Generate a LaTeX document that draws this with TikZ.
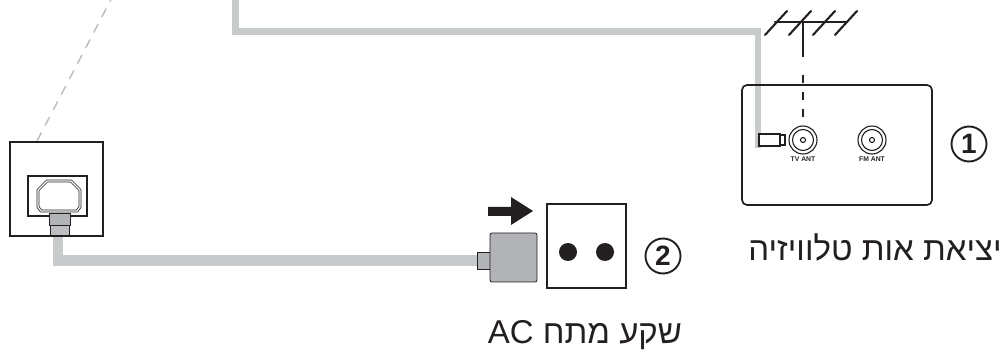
\documentclass[tikz,border=0pt]{standalone}
\usepackage{xcolor}
\usepackage{fontspec}
\setmainfont{Liberation Sans}
\newfontfamily\hebfont[Script=Hebrew]{Liberation Sans}
\TeXXeTstate=1
\usetikzlibrary{calc,arrows.meta}
\definecolor{ink}{HTML}{231F20}
\definecolor{wire}{HTML}{C8CBCC}
\definecolor{plug}{HTML}{B1B3B6}
\definecolor{faint}{HTML}{BDBFC1}
\tikzset{
  cable/.style={draw=wire, line width=10.5pt, line join=miter},
  thincable/.style={draw=wire, line width=6.5pt, line join=miter},
  plate/.style={draw=ink, line width=1.7pt},
  heavy/.style={draw=ink, line width=2.6pt},
  part/.style={draw=ink, fill=plug, line width=0.8pt},
  rod/.style={draw=ink, line width=2.1pt, line cap=round},
  hole/.style={circle, fill=ink, inner sep=0pt, minimum size=18pt},
  badge/.style={circle, draw=ink, line width=1.9pt, inner sep=0pt, minimum size=35pt, text=ink, font=\fontsize{28}{28}\selectfont\bfseries},
  caption/.style={text=ink, font=\fontsize{33}{33}\selectfont\hebfont, inner sep=0pt},
  tiny/.style={text=ink, font=\fontsize{6.8}{6.8}\selectfont\bfseries, inner sep=0pt},
}
\begin{document}
\begin{tikzpicture}[x=1pt,y=-1pt]
  \useasboundingbox (0,0) rectangle (1008,352);
  \coordinate (TV) at (803,140);
  \coordinate (FM) at (872,140);
  % cable from the top to the aerial socket
  \coordinate (topin) at (235.7,0);
  \coordinate (topend) at (758,148);
  \draw[thincable] (topin) |- (758,31.5) -- (topend);
  % aerial
  \draw[rod] (775,22) -- (847,22);
  \foreach \x in {765,789,813,835}
    \draw[rod] (\x,35) -- (\x+22,11);
  \draw[rod, line cap=butt] (803,22) -- (803,57);
  \draw[rod, line cap=butt, line width=2.5pt, dash pattern=on 8pt off 9pt] (803,75) -- (803,117);
  % aerial wall plate
  \draw[plate, rounded corners=5pt] (742,85) rectangle (932,205);
  \foreach \c in {TV,FM} {
    \draw[ink, line width=1.1pt] (\c) circle (14pt);
    \draw[ink, line width=1.1pt] (\c) circle (10.5pt);
    \draw[ink, line width=1.1pt] (\c) circle (2.5pt);
  }
  \node[tiny] (tvlab) at (803,159) {TV ANT};
  \node[tiny] (fmlab) at (872,159) {FM ANT};
  \draw[fill=white, draw=ink, line width=2pt] (759,134) rectangle (780,146);
  \draw[fill=white, draw=ink, line width=2pt] (780,135) rectangle (785,145);
  \node[badge] (one) at (969,144) {1};
  \node[caption] (tvcap) at (875,247) {\beginR יציאת אות טלוויזיה\endR};
  % dashed guide and back panel
  \draw[draw=faint, line width=1.5pt, dash pattern=on 9.5pt off 8pt] (37,141) -- (110.7,0);
  \draw[cable] (58,236) |- (478,260.5);
  \draw[plate] (10,142) rectangle (103,236);
  \draw[plate] (28,176) rectangle (87,216);
  \draw[ink, line width=0.8pt, line join=round, double=white, double distance=1.2pt]
    (47,181) -- (71,181) -- (80,190) -- (80,207) -- (77,211) -- (41,211) -- (38,207) -- (38,190) -- cycle;
  \draw[part, fill=plug!85!white] (50,225) rectangle (69,236);
  \draw[part] (49,213) rectangle (70,225);
  \draw[draw=ink, line width=1.6pt] (50,236) -- (69,236);
  % mains plug and socket
  \draw[part] (477,252) rectangle (490,269);
  \draw[part, rounded corners=2pt] (490,233) rectangle (537,282);
  \draw[fill=ink, draw=none] (488,207) -- (511,207) -- (511,197) -- (533,211) -- (511,225) -- (511,216) -- (488,216) -- cycle;
  \draw[heavy] (547,204) rectangle (626,288);
  \node[hole] (holea) at (568,252) {};
  \node[hole] (holeb) at (605,252) {};
  \node[badge] (two) at (663,256) {2};
  \node[caption] (accap) at (585,335) {\beginR שקע מתח \beginL AC\endL\endR};
\end{tikzpicture}
\end{document}
